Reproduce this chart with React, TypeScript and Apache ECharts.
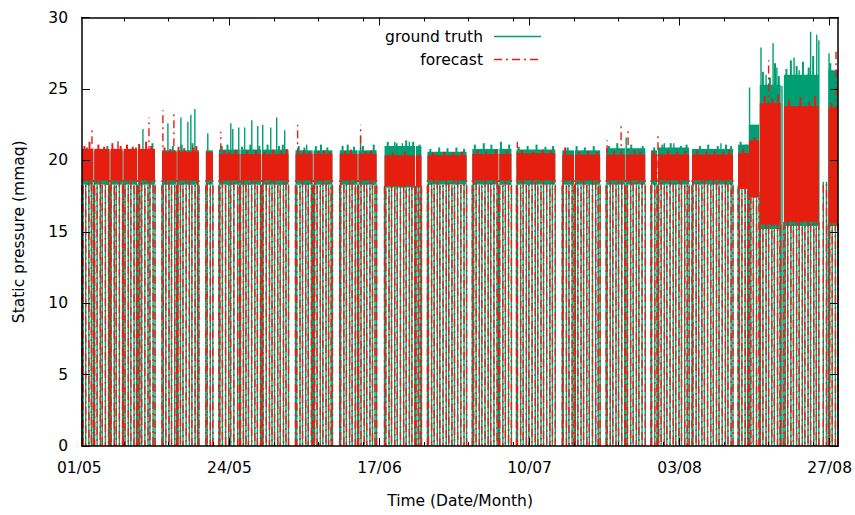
import React, { useEffect, useRef } from 'react';
import * as echarts from 'echarts';

// x values are days since 01/05 00:00
const X_MIN = 0.42;
const X_MAX = 119.33;

const tickDays = [0, 23.6, 47.2, 70.8, 94.4, 118.0];
const tickLabels = ['01/05', '24/05', '17/06', '10/07', '03/08', '27/08'];
const minorTickDays = [7, 14, 21, 30.6, 37.6, 44.6, 54.2, 61.2, 68.2, 77.8, 84.8, 91.8, 101.4, 108.4, 115.4];
const yTicks = [0, 5, 10, 15, 20, 25, 30];

// operating blocks (days) and the range of the signal inside each block
const blockStart = [0.42, 2.35, 4.9, 6.95, 9.25, 13.0, 15.45, 19.9, 21.95, 25.35, 28.75, 34.0, 36.85, 40.95, 43.9, 48.0, 52.95, 54.75, 61.8, 66.05, 68.75, 75.95, 77.95, 82.85, 85.95, 89.9, 91.0, 96.35, 103.6, 105.3, 107.0, 110.8, 117.8];
const blockEnd = [2.2, 4.75, 6.8, 9.1, 11.9, 15.3, 18.8, 21.0, 25.2, 28.6, 32.9, 36.7, 39.8, 43.75, 46.75, 52.8, 53.8, 60.9, 65.9, 67.95, 74.85, 77.8, 81.9, 85.8, 89.0, 90.85, 95.9, 102.8, 105.3, 106.9, 110.3, 116.3, 119.33];
const gtLow = [18.3, 18.3, 18.3, 18.3, 18.3, 18.3, 18.3, 18.3, 18.3, 18.3, 18.3, 18.3, 18.3, 18.3, 18.3, 18.1, 18.1, 18.3, 18.3, 18.3, 18.3, 18.3, 18.3, 18.3, 18.3, 18.3, 18.3, 18.3, 18.2, 17.8, 15.2, 15.4, 15.4];
const gtHigh = [20.65, 20.65, 20.65, 20.65, 20.65, 20.7, 20.7, 20.7, 20.75, 20.75, 20.75, 20.7, 20.7, 20.7, 20.7, 21.0, 21.0, 20.6, 20.8, 20.8, 20.75, 20.7, 20.7, 20.85, 20.85, 20.7, 20.9, 20.8, 21.1, 22.5, 25.3, 26.0, 26.3];
const fcLow = [18.6, 18.6, 18.6, 18.6, 18.6, 18.6, 18.6, 18.6, 18.6, 18.6, 18.6, 18.6, 18.6, 18.6, 18.6, 18.2, 18.2, 18.6, 18.6, 18.6, 18.6, 18.6, 18.6, 18.6, 18.6, 18.6, 18.6, 18.6, 18.0, 17.4, 15.5, 15.7, 15.6];
const fcHigh = [20.8, 20.8, 20.8, 20.8, 20.8, 20.6, 20.6, 20.6, 20.45, 20.45, 20.45, 20.45, 20.45, 20.45, 20.45, 20.35, 20.35, 20.35, 20.45, 20.45, 20.5, 20.4, 20.4, 20.4, 20.4, 20.4, 20.4, 20.4, 20.5, 21.4, 24.0, 23.8, 23.7];

// isolated tall peaks above the band
const gtPeakDay = [10.0, 13.93, 15.97, 17.07, 17.54, 18.17, 20.2, 23.82, 24.13, 25.07, 26.0, 27.12, 28.06, 28.84, 30.1, 31.04, 32.3, 35.75, 44.23, 49.6, 50.8, 51.9, 86.0, 92.0, 93.5, 100.9, 105.4, 107.2, 108.0, 109.1, 109.7, 110.5, 112.4, 113.2, 114.4, 115.0, 115.97, 116.3, 117.9, 118.8];
const gtPeakValue = [22.2, 22.6, 23.0, 22.7, 23.2, 23.6, 21.9, 22.6, 22.2, 22.3, 22.3, 22.8, 22.4, 22.5, 22.3, 23.0, 22.1, 21.1, 21.7, 21.3, 21.2, 21.3, 21.6, 21.2, 21.2, 21.2, 25.1, 27.9, 26.0, 28.2, 26.5, 25.2, 27.2, 26.3, 26.0, 29.0, 28.8, 28.4, 27.5, 25.8];
const fcPeakDay = [1.99, 6.08, 10.95, 13.14, 14.87, 22.25, 34.33, 44.23, 68.88, 83.0, 85.2, 86.3, 91.0, 108.4, 119.0];
const fcPeakValue = [22.1, 21.4, 23.0, 23.5, 23.5, 22.0, 22.5, 22.5, 21.3, 21.4, 22.6, 22.2, 21.9, 27.0, 27.6];

// small ripples on the top edge of the band
const gtRippleDay = [1.2, 4.4, 8.9, 11.5, 14.7, 16.1, 17.8, 22.4, 23.3, 25.6, 26.9, 28.3, 29.6, 31.4, 32.0, 34.5, 35.4, 37.2, 38.0, 39.0, 41.4, 42.2, 43.2, 44.6, 46.3, 48.5, 49.9, 51.4, 52.5, 53.5, 55.2, 56.6, 57.9, 59.3, 60.5, 62.2, 63.6, 64.8, 66.3, 67.6, 69.1, 70.5, 71.9, 73.3, 74.5, 76.8, 78.2, 79.5, 80.9, 83.3, 84.6, 86.8, 88.6, 90.4, 91.7, 93.0, 94.6, 95.5, 97.6, 98.9, 100.4, 101.7, 102.5, 104.0, 104.9, 107.5, 108.6, 109.4, 110.0, 111.2, 111.9, 112.8, 113.8, 114.7, 115.4, 118.1, 119.1];
const gtRippleValue = [20.9, 21.0, 20.9, 21.2, 21.0, 21.1, 21.2, 21.0, 21.1, 20.95, 21.1, 21.0, 21.1, 21.0, 21.1, 21.0, 20.9, 21.0, 21.1, 20.9, 21.0, 21.1, 20.95, 21.0, 21.1, 21.3, 21.2, 21.4, 21.3, 21.1, 20.8, 20.9, 20.85, 20.9, 20.8, 21.1, 21.2, 21.1, 21.3, 21.1, 20.95, 21.0, 21.1, 20.95, 21.0, 20.9, 21.0, 20.9, 21.0, 21.0, 21.2, 21.1, 21.0, 20.9, 21.1, 21.2, 21.0, 21.1, 21.0, 21.1, 21.0, 21.1, 21.0, 21.3, 21.1, 26.2, 25.8, 26.8, 25.9, 26.4, 27.0, 26.6, 26.9, 26.5, 27.3, 26.8, 25.5];
const fcRippleDay = [0.8, 1.6, 3.0, 3.9, 5.2, 6.5, 7.5, 8.4, 9.4, 10.5, 11.3, 13.4, 14.3, 15.6, 16.5, 17.9, 18.4, 22.8, 23.6, 24.6, 26.4, 27.8, 29.1, 30.5, 31.8, 32.6, 35.3, 36.2, 37.6, 38.5, 39.4, 41.8, 42.7, 45.0, 45.9, 49.3, 51.2, 55.6, 57.4, 58.8, 60.2, 62.6, 64.0, 65.5, 67.2, 69.6, 71.4, 72.9, 74.2, 76.4, 78.6, 80.0, 81.4, 84.1, 87.3, 88.2, 90.3, 92.6, 94.0, 95.3, 97.2, 98.6, 99.9, 101.3, 102.2, 104.4, 106.2, 107.8, 109.0, 109.9, 111.6, 113.4, 114.8, 115.7, 118.3];
const fcRippleValue = [21.0, 21.3, 21.1, 20.95, 21.2, 21.0, 21.1, 20.95, 21.15, 21.3, 21.0, 20.9, 20.8, 20.95, 20.85, 20.9, 21.0, 20.7, 20.6, 20.75, 20.65, 20.7, 20.6, 20.75, 20.65, 20.8, 20.7, 20.6, 20.65, 20.7, 20.6, 20.65, 20.75, 20.6, 20.7, 20.55, 20.6, 20.55, 20.6, 20.55, 20.6, 20.7, 20.6, 20.75, 20.65, 20.7, 20.6, 20.75, 20.65, 20.9, 20.6, 20.65, 20.6, 20.65, 20.7, 20.6, 20.65, 20.7, 20.6, 20.65, 20.7, 20.6, 20.65, 20.6, 20.7, 20.8, 21.6, 24.5, 24.3, 24.6, 24.2, 24.4, 24.1, 24.5, 24.0];

// instants where the pressure drops to 0
const dropDay = [
  0.6, 1.0, 1.5, 1.9, 2.4, 2.8, 3.3, 3.6, 4.1, 4.6, 5.0, 5.5, 5.8, 6.3, 6.9, 7.2, 7.7, 8.1, 8.6, 9.0, 9.5, 9.8, 10.3, 10.8, 11.1, 11.6,
  13.2, 13.6, 14.1, 14.5, 15.0, 15.5, 15.9, 16.3, 16.8, 17.3, 17.7, 18.2, 18.6,
  20.1, 20.6,
  22.1, 22.5, 23.0, 23.5, 23.8, 24.3, 24.9, 25.3, 25.8, 26.2, 26.6, 27.1, 27.6, 28.0, 28.5, 28.9, 29.4, 29.9, 30.3, 30.7, 31.2, 31.6, 32.1, 32.5,
  34.2, 34.7, 35.1, 35.6, 36.0, 36.5, 37.0, 37.4, 37.9, 38.3, 38.8, 39.2, 39.6,
  41.1, 41.6, 42.0, 42.5, 42.9, 43.4, 43.9, 44.3, 44.8, 45.2, 45.7, 46.1, 46.5,
  48.2, 48.7, 49.1, 49.6, 50.0, 50.5, 51.0, 51.4, 51.9, 52.3, 52.8, 53.3, 53.6,
  54.9, 55.4, 55.8, 56.3, 56.7, 57.2, 57.7, 58.1, 58.6, 59.0, 59.5, 60.0, 60.5,
  62.0, 62.4, 62.9, 63.3, 63.8, 64.3, 64.7, 65.2, 65.7, 66.1, 66.6, 67.0, 67.5,
  68.9, 69.4, 69.8, 70.3, 70.7, 71.2, 71.7, 72.1, 72.6, 73.0, 73.5, 74.0, 74.4,
  76.1, 76.6, 77.0, 77.5, 78.0, 78.4, 78.9, 79.3, 79.8, 80.2, 80.7, 81.2, 81.6,
  83.0, 83.5, 83.9, 84.4, 84.8, 85.3, 85.8, 86.2, 86.7, 87.1, 87.6, 88.0, 88.5,
  90.0, 90.5, 91.1, 91.5, 92.0, 92.4, 92.9, 93.4, 93.8, 94.3, 94.7, 95.2, 95.6,
  96.5, 97.0, 97.4, 97.9, 98.3, 98.8, 99.3, 99.7, 100.2, 100.6, 101.1, 101.6, 102.0, 102.5,
  103.8, 104.2, 104.7, 105.1, 105.6, 106.0, 106.5, 107.1, 107.5, 108.0, 108.4, 108.9, 109.3, 109.8, 110.2,
  111.0, 111.4, 111.9, 112.3, 112.8, 113.2, 113.7, 114.1, 114.6, 115.0, 115.5, 115.9,
  117.0, 117.5, 118.0, 118.4, 118.9,
];

const GREEN = '#009e73';
const RED = '#e51e10';
const FONT = 'DejaVu Sans';
const FS = 15.5;
const DASH = [8, 4, 2, 4];

function blockIndex(d: number): number {
  for (let i = 0; i < blockStart.length; i++) {
    if (d >= blockStart[i] && d <= blockEnd[i]) return i;
  }
  return -1;
}

function bandSeries(low: number[], high: number[], color: string, dashed: boolean) {
  const data = blockStart.map((s, i) => [s, blockEnd[i], low[i], high[i]]);
  return {
    type: 'custom',
    xAxisIndex: 0,
    yAxisIndex: 0,
    silent: true,
    encode: { x: [0, 1], y: [2, 3] },
    data,
    renderItem: (params: any, api: any) => {
      const s = api.value(0);
      const e = api.value(1);
      const lo = api.value(2);
      const hi = api.value(3);
      const tl = api.coord([s, hi]);
      const br = api.coord([e, lo]);
      const b0 = api.coord([s, 0]);
      const edge = { stroke: color, lineWidth: 1.4, lineDash: dashed ? DASH : null, fill: null };
      return {
        type: 'group',
        children: [
          { type: 'rect', shape: { x: tl[0], y: tl[1], width: br[0] - tl[0], height: br[1] - tl[1] }, style: { fill: color } },
          { type: 'line', shape: { x1: tl[0], y1: b0[1], x2: tl[0], y2: br[1] }, style: edge },
          { type: 'line', shape: { x1: br[0], y1: b0[1], x2: br[0], y2: br[1] }, style: edge },
        ],
      };
    },
  };
}

function stickSeries(items: number[][], color: string, dashed: boolean, width = 1.4) {
  return {
    type: 'custom',
    xAxisIndex: 0,
    yAxisIndex: 0,
    silent: true,
    encode: { x: 0, y: [1, 2] },
    data: items,
    renderItem: (params: any, api: any) => {
      const d = api.value(0);
      const a = api.coord([d, api.value(1)]);
      const b = api.coord([d, api.value(2)]);
      return {
        type: 'line',
        shape: { x1: a[0], y1: a[1], x2: b[0], y2: b[1] },
        style: {
          stroke: color,
          lineWidth: width,
          fill: null,
          lineDash: dashed ? DASH : null,
          lineDashOffset: dashed ? (params.dataIndex * 5) % 18 : 0,
        },
      };
    },
  };
}

const gtDrops = dropDay.map((d) => {
  const i = blockIndex(d);
  return [d, 0, i >= 0 ? gtLow[i] : 18.5];
});
const fcDrops = dropDay.map((d) => {
  const i = blockIndex(d);
  return [d, 0, i >= 0 ? fcLow[i] : 18.5];
});
function peaks(days: number[], values: number[], low: number[]) {
  return days.map((d, k) => {
    const i = blockIndex(d);
    return [d, i >= 0 ? low[i] : 0, values[k]];
  });
}
const gtPeaks = peaks(gtPeakDay, gtPeakValue, gtLow);
const fcPeaks = peaks(fcPeakDay, fcPeakValue, fcLow);
const gtRipples = peaks(gtRippleDay, gtRippleValue, gtLow);
const fcRipples = peaks(fcRippleDay, fcRippleValue, fcLow);

function labelFor(v: number): string {
  const k = tickDays.findIndex((t) => Math.abs(t - v) < 0.01);
  return k >= 0 ? tickLabels[k] : '';
}

const axisText = { fontFamily: FONT, fontSize: FS, color: '#000' };

function xAxisDef(position: 'top' | 'bottom', major: boolean, showLine: boolean, showLabel: boolean) {
  const vals = major ? tickDays.slice(1) : minorTickDays;
  return {
    type: 'value',
    gridIndex: 0,
    position,
    min: X_MIN,
    max: X_MAX,
    z: 10,
    axisLine: { show: showLine, onZero: false, lineStyle: { color: '#000', width: 1.5 } },
    axisTick: { show: true, inside: true, length: major ? 8 : 4, customValues: vals, lineStyle: { color: '#000', width: 1 } },
    axisLabel: { show: showLabel, customValues: vals, formatter: (v: number) => labelFor(v), margin: 14, ...axisText },
    splitLine: { show: false },
    ...(showLabel
      ? { name: 'Time (Date/Month)', nameLocation: 'middle', nameGap: 47, nameTextStyle: { ...axisText } }
      : {}),
  };
}

function yAxisDef(position: 'left' | 'right') {
  const left = position === 'left';
  return {
    type: 'value',
    gridIndex: 0,
    position,
    min: yTicks[0],
    max: yTicks[yTicks.length - 1],
    interval: 5,
    z: 10,
    axisLine: { show: true, onZero: false, lineStyle: { color: '#000', width: 1.5 } },
    axisTick: { show: true, inside: true, length: 8, lineStyle: { color: '#000', width: 1 } },
    axisLabel: { show: left, margin: 14, ...axisText },
    splitLine: { show: false },
    ...(left
      ? { name: 'Static pressure (mmaq)', nameLocation: 'middle', nameGap: 55, nameTextStyle: { ...axisText } }
      : {}),
  };
}

export default function App() {
  const ref = useRef<HTMLDivElement>(null);
  useEffect(() => {
    if (!ref.current) return;
    const chart = echarts.init(ref.current, null, { renderer: 'svg' });
    const option: any = {
      animation: false,
      backgroundColor: '#fff',
      grid: { left: 82, right: 15.7, top: 17.5, bottom: 69, containLabel: false },
      xAxis: [
        xAxisDef('bottom', true, true, true),
        xAxisDef('bottom', false, false, false),
        xAxisDef('top', true, true, false),
        xAxisDef('top', false, false, false),
      ],
      yAxis: [yAxisDef('left'), yAxisDef('right')],
      series: [
        stickSeries(gtDrops, GREEN, false),
        bandSeries(gtLow, gtHigh, GREEN, false),
        stickSeries(gtRipples, GREEN, false, 2),
        stickSeries(gtPeaks, GREEN, false),
        stickSeries(fcDrops, RED, true),
        bandSeries(fcLow, fcHigh, RED, true),
        stickSeries(fcRipples, RED, false, 2),
        stickSeries(fcPeaks, RED, true),
      ],
    };
    chart.setOption(option);
    const px = chart.convertToPixel({ xAxisIndex: 0 }, tickDays[0]) as number;
    const py = chart.convertToPixel({ yAxisIndex: 0 }, 0) as number;
    chart.setOption({
      graphic: [
        { type: 'text', x: px, y: py + 14, z: 20, style: { text: tickLabels[0], fontFamily: FONT, fontSize: FS, fill: '#000', align: 'center', verticalAlign: 'top' } },
        { type: 'text', x: 483, y: 37, z: 20, style: { text: 'ground truth', fontFamily: FONT, fontSize: FS, fill: '#000', align: 'right', verticalAlign: 'middle' } },
        { type: 'line', z: 20, shape: { x1: 494, y1: 36.5, x2: 541, y2: 36.5 }, style: { stroke: GREEN, lineWidth: 1.5 } },
        { type: 'text', x: 483, y: 60, z: 20, style: { text: 'forecast', fontFamily: FONT, fontSize: FS, fill: '#000', align: 'right', verticalAlign: 'middle' } },
        { type: 'line', z: 20, shape: { x1: 494, y1: 59.5, x2: 541, y2: 59.5 }, style: { stroke: RED, lineWidth: 1.5, lineDash: DASH } },
      ],
    });
    return () => chart.dispose();
  }, []);
  return <div ref={ref} style={{ position: 'fixed', left: 0, top: 0, width: 855, height: 515 }} />;
}
